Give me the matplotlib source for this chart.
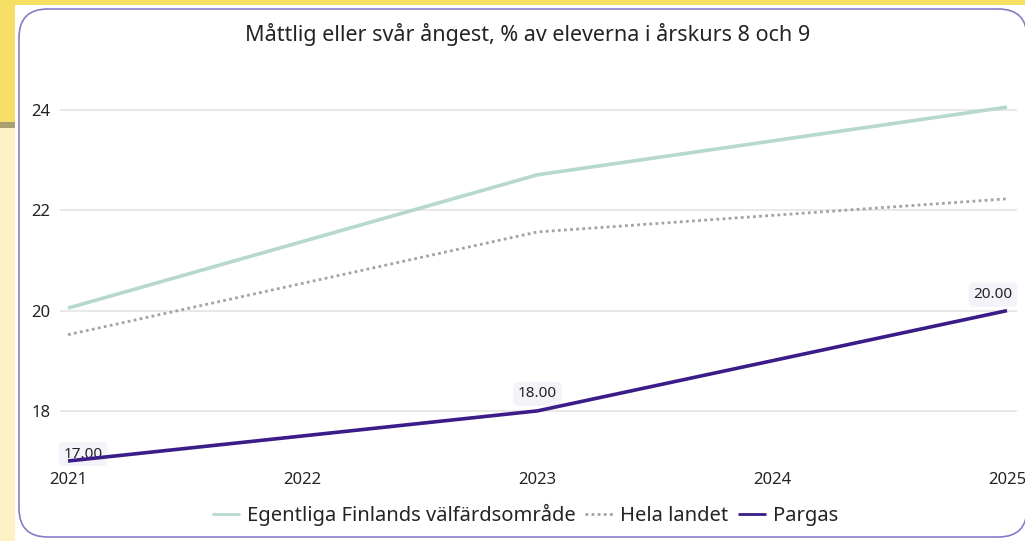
import matplotlib
matplotlib.use("Agg")
import matplotlib.pyplot as plt
from matplotlib.patches import Rectangle, FancyBboxPatch

plt.rcParams["font.family"] = ["Noto Sans", "DejaVu Sans"]

years = [2021, 2023, 2025]
egentliga = [20.05, 22.71, 24.06]
hela_landet = [19.52, 21.57, 22.23]
pargas = [17.0, 18.0, 20.0]
x_ticks = [2021, 2022, 2023, 2024, 2025]
y_ticks = [18, 20, 22, 24]

title = "Måttlig eller svår ångest, % av eleverna i årskurs 8 och 9"
names = ["Egentliga Finlands välfärdsområde", "Hela landet", "Pargas"]

W, H = 1025, 541
fig = plt.figure(figsize=(W / 100, H / 100), dpi=100, facecolor="#FCF1C2")

def px(x0, y0, w, h):
    # pixel box (top-left origin) -> figure fraction
    return (x0 / W, 1 - (y0 + h) / H, w / W, h / H)

# page background around the card
bx = px(0, 0, W, 124)
fig.patches.append(Rectangle(bx[:2], bx[2], bx[3], transform=fig.transFigure,
                             facecolor="#F7DF66", edgecolor="none", zorder=0))
bx = px(0, 122, 16, 6)
fig.patches.append(Rectangle(bx[:2], bx[2], bx[3], transform=fig.transFigure,
                             facecolor="#A89E70", edgecolor="none", zorder=0.5))
bx = px(15, 5, W - 15, H - 5)
fig.patches.append(Rectangle(bx[:2], bx[2], bx[3], transform=fig.transFigure,
                             facecolor="white", edgecolor="none", zorder=1))
bx = px(19, 9, W - 19 + 2, 528)
fig.patches.append(FancyBboxPatch(bx[:2], bx[2], bx[3], transform=fig.transFigure,
                                  boxstyle="round,pad=0,rounding_size=0.028",
                                  mutation_aspect=W / H,
                                  facecolor="white", edgecolor="#8A7BC6",
                                  linewidth=1.2, zorder=2))

ax = fig.add_axes(px(60, 60, 957, 401))
ax.set_zorder(3)
ax.patch.set_alpha(0)

ax.plot(years, egentliga, color="#B6D8CE", linewidth=2.6, solid_capstyle="butt",
        label=names[0], zorder=3)
ax.plot(years, hela_landet, color="#A3A3A3", linewidth=2, linestyle=(0, (1, 1.2)),
        label=names[1], zorder=3)
ax.plot(years, pargas, color="#3B1C88", linewidth=2.6, solid_capstyle="butt",
        label=names[2], clip_on=False, zorder=3)

# data labels for Pargas, kept under the lines
offsets = [(15, 7), (0, 17), (-14, 16)]
for x, y, (dx, dy) in zip(years, pargas, offsets):
    ax.annotate(f"{y:.2f}", (x, y), xytext=(dx, dy), textcoords="offset pixels",
                ha="center", va="center", fontsize=11, color="#252423",
                bbox=dict(boxstyle="round,pad=0.3,rounding_size=0.3",
                          facecolor="#F4F3F9", edgecolor="none"),
                annotation_clip=False, zorder=2)

ax.set_xlim(2021 - 8 / 234.75, 2025 + 10 / 234.75)
ax.set_ylim(17, 25)
ax.set_xticks(x_ticks)
ax.set_xticklabels([str(t) for t in x_ticks])
ax.set_yticks(y_ticks)
ax.set_yticklabels([str(t) for t in y_ticks])
ax.tick_params(length=0, labelsize=12, colors="#252423")
ax.tick_params(axis="y", pad=7)
ax.tick_params(axis="x", pad=8)
ax.grid(axis="y", color="#E1E1E1", linewidth=1.1)
ax.set_axisbelow(True)
for s in ax.spines.values():
    s.set_visible(False)

fig.text(528 / W, 1 - 34 / H, title, ha="center", va="center",
         fontsize=15.5, color="#252423", zorder=4)

leg = fig.legend(loc="center", bbox_to_anchor=(525 / W, 1 - 515 / H), ncol=3,
                 frameon=False, fontsize=14.5, handlelength=1.4, handletextpad=0.35,
                 columnspacing=0.45, labelcolor="#252423")
for h in leg.get_lines():
    h.set_linewidth(2)

fig.savefig("out.png", dpi=100, facecolor=fig.get_facecolor())
